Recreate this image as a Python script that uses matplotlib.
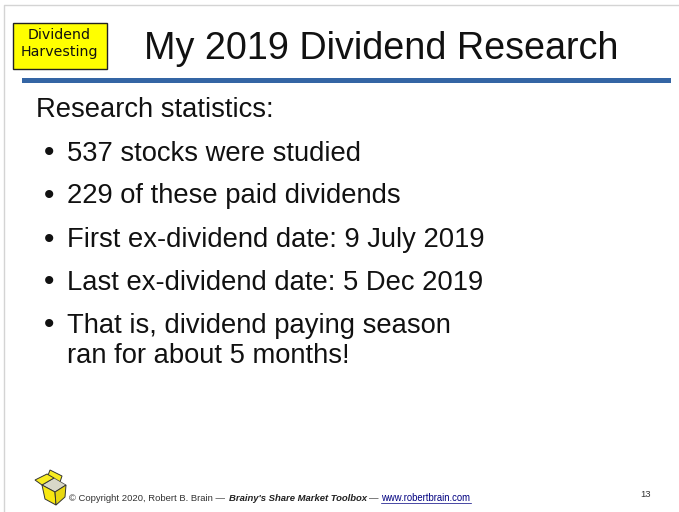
import matplotlib
matplotlib.use("Agg")
import matplotlib.pyplot as plt
from matplotlib.patches import Rectangle, Polygon

plt.rcParams['font.family'] = ['Liberation Sans', 'DejaVu Sans']

TITLE = "My 2019 Dividend Research"
BADGE = ["Dividend", "Harvesting"]
INTRO = "Research statistics:"
BULLETS = ["537 stocks were studied",
           "229 of these paid dividends",
           "First ex-dividend date: 9 July 2019",
           "Last ex-dividend date: 5 Dec 2019",
           "That is, dividend paying season"]
BULLET_BASE = [160.7, 203.3, 247, 290, 332.7]
CONT = "ran for about 5 months!"
PAGE = "13"

fig = plt.figure(figsize=(6.79, 5.12), dpi=100)
ax = fig.add_axes([0, 0, 1, 1])
ax.set_xlim(0, 679)
ax.set_ylim(512, 0)
ax.axis('off')

# page border
ax.plot([679, 3.5, 3.5], [4.5, 4.5, 512], color='#d4d4d4', lw=1.0)

# badge
ax.add_patch(Rectangle((12.5, 23), 94, 45.5, fc='#ffff00', ec='#222222', lw=1.0))
ax.text(59, 35, BADGE[0], ha='center', va='center', fontsize=10.2, family=['DejaVu Sans'], color='#111111')
ax.text(59, 52, BADGE[1], ha='center', va='center', fontsize=10.2, family=['DejaVu Sans'], color='#111111')

# title and rule
ax.text(381.5, 59, TITLE, ha='center', va='baseline', fontsize=27.2, color='#111111')
ax.add_patch(Rectangle((22, 78), 649, 5, fc='#3465a4', ec='none'))

# body
ax.text(36, 117, INTRO, ha='left', va='baseline', fontsize=19.7, color='#111111')
for y, t in zip(BULLET_BASE, BULLETS):
    ax.text(49.5, y + 0.5, "•", ha='center', va='baseline', fontsize=21.5, color='#111111')
    ax.text(67, y, t, ha='left', va='baseline', fontsize=19.7, color='#111111')
ax.text(67, 362.7, CONT, ha='left', va='baseline', fontsize=19.7, color='#111111')

# footer icon
ax.add_patch(Polygon([(47, 478), (50, 470), (62, 476), (60, 482)], fc='#f8ec20', ec='#333333', lw=0.7))
ax.add_patch(Polygon([(42, 485), (54, 478), (66, 485), (55, 492)], fc='#d8d8c8', ec='#444444', lw=0.5))
ax.add_patch(Polygon([(42, 485), (35, 480), (47, 474), (54, 478)], fc='#f8ec20', ec='#333333', lw=0.7))
ax.add_patch(Polygon([(42, 485), (55, 492), (56, 505), (45, 499)], fc='#f8e810', ec='#333333', lw=0.7))
ax.add_patch(Polygon([(55, 492), (66, 485), (65, 497), (56, 505)], fc='#e8d810', ec='#333333', lw=0.7))

# footer text
y_foot = 501
ax.text(69, y_foot, "© Copyright 2020, Robert B. Brain — ", ha='left', va='baseline', fontsize=6.8, color='#333333')
ax.text(229, y_foot, "Brainy's Share Market Toolbox", ha='left', va='baseline', fontsize=6.8,
        fontweight='bold', fontstyle='italic', color='#222222')
ax.text(369, y_foot, "— ", ha='left', va='baseline', fontsize=6.8, color='#333333')
ax.text(381, y_foot, "www.robertbrain.com", ha='left', va='baseline', fontsize=6.85, color='#000080')
ax.plot([381, 471], [503, 503], color='#000080', lw=0.5)
ax.text(640.5, 497, PAGE, ha='left', va='baseline', fontsize=6.8, color='#333333')

fig.savefig("out.png", dpi=100)
